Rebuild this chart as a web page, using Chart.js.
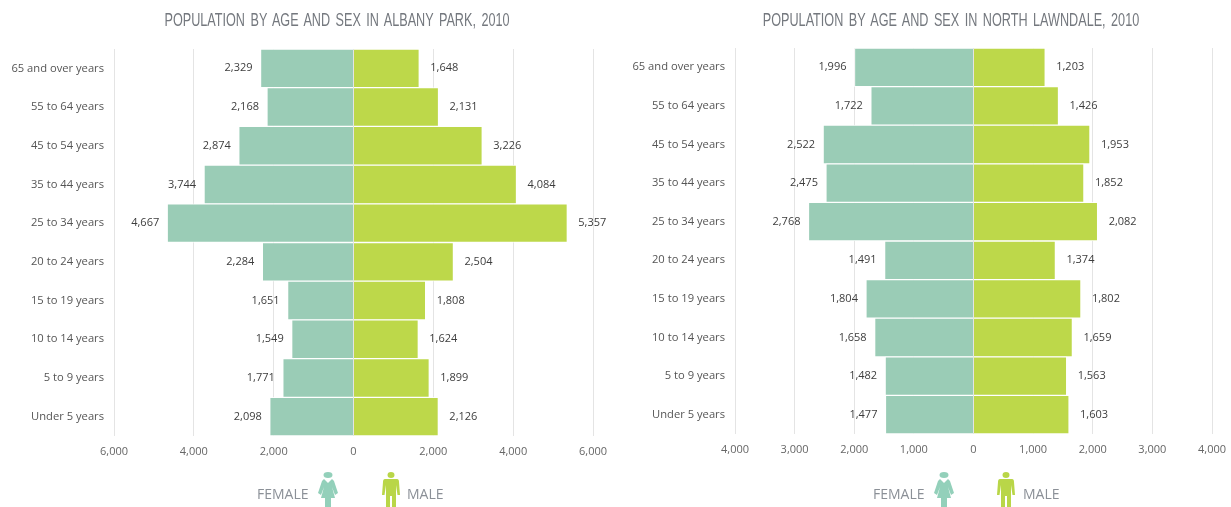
<!DOCTYPE html>
<html>
<head>
<meta charset="utf-8">
<title>Population by age and sex</title>
<script src="https://cdn.jsdelivr.net/npm/chart.js@4/dist/chart.umd.min.js"></script>
<style>
    html, body { margin: 0; padding: 0; background: #fff; }
    #page { position: relative; width: 1231px; height: 507px; overflow: hidden; }
    canvas { position: absolute; top: 0; }
    .title {
        position: absolute; top: 9px; white-space: nowrap; transform: translateX(-50%) scaleX(0.665);
        font: 19px "Liberation Sans", sans-serif;
        color: #74787e; word-spacing: 3px;
    }
    .legend-text {
        position: absolute; top: 484px; font: 14px "Open Sans", sans-serif; color: #8b9097;
    }
    svg { position: absolute; top: 472px; width: 20px; height: 36px; }
</style>
</head>
<body>
<div id="page">
    <canvas id="albany-chart" width="615" height="507" style="left:0"></canvas>
    <canvas id="lawndale-chart" width="610" height="507" style="left:621px"></canvas>

    <div class="title" style="left:337px">POPULATION BY AGE AND SEX IN ALBANY PARK, 2010</div>
    <div class="title" style="left:951px">POPULATION BY AGE AND SEX IN NORTH LAWNDALE, 2010</div>

    <div class="legend-text" style="left:257px">FEMALE</div>
    <svg style="left:318px" viewBox="0 0 20 36"><use href="#female-icon"/></svg>
    <svg style="left:381px" viewBox="0 0 20 36"><use href="#male-icon"/></svg>
    <div class="legend-text" style="left:407px">MALE</div>

    <div class="legend-text" style="left:873px">FEMALE</div>
    <svg style="left:934px" viewBox="0 0 20 36"><use href="#female-icon"/></svg>
    <svg style="left:996px" viewBox="0 0 20 36"><use href="#male-icon"/></svg>
    <div class="legend-text" style="left:1023px">MALE</div>

    <svg style="display:none">
        <symbol id="female-icon" viewBox="0 0 20 36">
            <ellipse cx="10" cy="3" rx="4.5" ry="3" fill="#93d0ba"/>
            <path d="M6 7 L10 11 L14 7 L16 9 L20 21 L17 23 L14 15 L17 26 L13 26 L13 36 L7 36 L7 26 L3 26 L6 15 L3 23 L0 21 L4 9 Z" fill="#93d0ba"/>
        </symbol>
        <symbol id="male-icon" viewBox="0 0 20 36">
            <ellipse cx="10" cy="3" rx="3.5" ry="3" fill="#b9d648"/>
            <path d="M4 7 L16 7 Q18 7 18 10 L19 23 L16.5 23 L15 13 L15 36 L11 36 L11 24 L9 24 L9 36 L5 36 L5 13 L3.5 23 L1 23 L2 10 Q2 7 4 7 Z" fill="#b9d648"/>
        </symbol>
    </svg>
</div>

<script>
const ageGroups = ['65 and over years', '55 to 64 years', '45 to 54 years', '35 to 44 years', '25 to 34 years',
    '20 to 24 years', '15 to 19 years', '10 to 14 years', '5 to 9 years', 'Under 5 years'];

const albanyFemale = [2329, 2168, 2874, 3744, 4667, 2284, 1651, 1549, 1771, 2098];
const albanyMale = [1648, 2131, 3226, 4084, 5357, 2504, 1808, 1624, 1899, 2126];

const lawndaleFemale = [1996, 1722, 2522, 2475, 2768, 1491, 1804, 1658, 1482, 1477];
const lawndaleMale = [1203, 1426, 1953, 1852, 2082, 1374, 1802, 1659, 1563, 1603];

const FEMALE_COLOR = '#9accb6';
const MALE_COLOR = '#bdd84a';
const LABEL_FONT = '"Open Sans", sans-serif';

// prints the value next to the end of each bar
const barValueLabels = {
    id: 'barValueLabels',
    afterDatasetsDraw(chart) {
        const { ctx, scales: { x, y } } = chart;
        ctx.save();
        ctx.font = `11px ${LABEL_FONT}`;
        ctx.fillStyle = '#3d3d3d';
        ctx.textBaseline = 'middle';
        chart.data.datasets.forEach((dataset) => {
            dataset.data.forEach((value, i) => {
                const px = x.getPixelForValue(value);
                const py = y.getPixelForValue(i);
                ctx.textAlign = value < 0 ? 'right' : 'left';
                ctx.fillText(Math.abs(value).toLocaleString('en-US'), px + (value < 0 ? -8 : 11), py);
            });
        });
        ctx.restore();
    }
};

const makePyramid = (canvasId, female, male, maxValue, stepSize, box) => {
    return new Chart(document.getElementById(canvasId), {
        type: 'bar',
        data: {
            labels: ageGroups,
            datasets: [
                { label: 'Female', data: female.map(v => -v), backgroundColor: FEMALE_COLOR },
                { label: 'Male', data: male, backgroundColor: MALE_COLOR }
            ]
        },
        options: {
            indexAxis: 'y',
            responsive: false,
            animation: false,
            barPercentage: 1,
            categoryPercentage: 1,
            borderWidth: 1,
            borderColor: 'rgba(255, 255, 255, 0.85)',
            layout: { padding: { top: box.top, right: box.right, left: 0, bottom: 0 } },
            scales: {
                x: {
                    stacked: true,
                    min: -maxValue,
                    max: maxValue,
                    afterFit: (scale) => {
                        scale.height = box.bottom;
                        // the end tick labels may hang past the plot area
                        scale.paddingLeft = 0;
                        scale.paddingRight = 0;
                    },
                    grid: { color: '#e4e4e4', lineWidth: 1, drawTicks: false },
                    border: { display: false },
                    ticks: {
                        stepSize: stepSize,
                        padding: 9,
                        maxRotation: 0,
                        color: '#666',
                        font: { family: LABEL_FONT, size: 11 },
                        callback: (value) => Math.abs(value).toLocaleString('en-US')
                    }
                },
                y: {
                    stacked: true,
                    afterFit: (scale) => { scale.width = box.left; },
                    grid: { display: false, drawTicks: false },
                    border: { display: false },
                    ticks: {
                        padding: 10,
                        color: '#555',
                        font: { family: LABEL_FONT, size: 11.2 }
                    }
                }
            },
            plugins: {
                legend: { display: false },
                title: { display: false },
                tooltip: { enabled: false }
            }
        },
        plugins: [barValueLabels]
    });
};

document.addEventListener('DOMContentLoaded', () => {
    makePyramid('albany-chart', albanyFemale, albanyMale, 6000, 2000, { left: 114, right: 22, top: 49, bottom: 71 });
    makePyramid('lawndale-chart', lawndaleFemale, lawndaleMale, 4000, 1000, { left: 114, right: 19, top: 48, bottom: 73 });
});
</script>
</body>
</html>
